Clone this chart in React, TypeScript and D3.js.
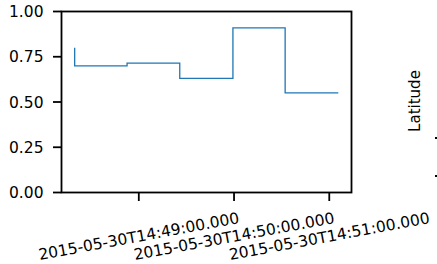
import React from 'react';
import * as d3 from 'd3';

// step series (UTC timestamps)
const times = [
    "2015-05-30T14:48:19.6Z",
    "2015-05-30T14:48:52.6Z",
    "2015-05-30T14:49:25.8Z",
    "2015-05-30T14:49:59.3Z",
    "2015-05-30T14:50:32.2Z",
    "2015-05-30T14:51:05.7Z",
];
const latitude = [0.80, 0.70, 0.715, 0.63, 0.91, 0.55];
const yTicks = [0, 0.25, 0.5, 0.75, 1];
const xTicks = ["2015-05-30T14:49:00Z", "2015-05-30T14:50:00Z", "2015-05-30T14:51:00Z"];

const W = 437, H = 264;
const left = 61.5, right = 351.5, top = 11.5, bottom = 192.5;
const font = "DejaVu Sans";

const App: React.FC = () => {
    const dates = times.map(t => new Date(t));
    const [t0, t1] = d3.extent(dates) as [Date, Date];
    const pad = (+t1 - +t0) * 0.05; // matplotlib-like margins
    const x = d3.scaleUtc().domain([+t0 - pad, +t1 + pad]).range([left, right]);
    const y = d3.scaleLinear().domain([0, 1]).range([bottom, top]);
    const fmt = d3.utcFormat("%Y-%m-%dT%H:%M:%S.%L");

    const line = d3.line<number>()
        .x((_, i) => x(dates[i]))
        .y(d => y(d))
        .curve(d3.curveStepBefore);

    return (
        <svg width={W} height={H} style={{ position: 'absolute', left: 0, top: 0 }} fontFamily={font}>
            <rect width={W} height={H} fill="white" />
            <path d={line(latitude) || ""} fill="none" stroke="#1f77b4" strokeWidth={1.3} />
            <rect x={left} y={top} width={right - left} height={bottom - top} fill="none" stroke="black" strokeWidth={1.8} />
            {yTicks.map(t => (
                <g key={t}>
                    <line x1={left - 8.5} x2={left} y1={y(t)} y2={y(t)} stroke="black" strokeWidth={1.8} />
                    <text x={left - 18} y={y(t)} dy="0.36em" textAnchor="end" fontSize={15.5}>{t.toFixed(2)}</text>
                </g>
            ))}
            {xTicks.map(s => {
                const d = new Date(s);
                const tx = x(d);
                const ty = 236;
                return (
                    <g key={s}>
                        <line x1={tx} x2={tx} y1={bottom} y2={bottom + 8.5} stroke="black" strokeWidth={1.8} />
                        <text x={tx} y={ty} dy="0.36em" textAnchor="middle" fontSize={15.5}
                            transform={`rotate(-10.5,${tx},${ty})`}>{fmt(d)}</text>
                    </g>
                );
            })}
            <text x={420} y={101} textAnchor="middle" fontSize={15} transform="rotate(-90,420,101)">Latitude</text>
            <rect x={435} y={137} width={2} height={2} fill="black" />
            <rect x={435} y={175} width={2} height={2} fill="black" />
        </svg>
    );
};

export default App;
